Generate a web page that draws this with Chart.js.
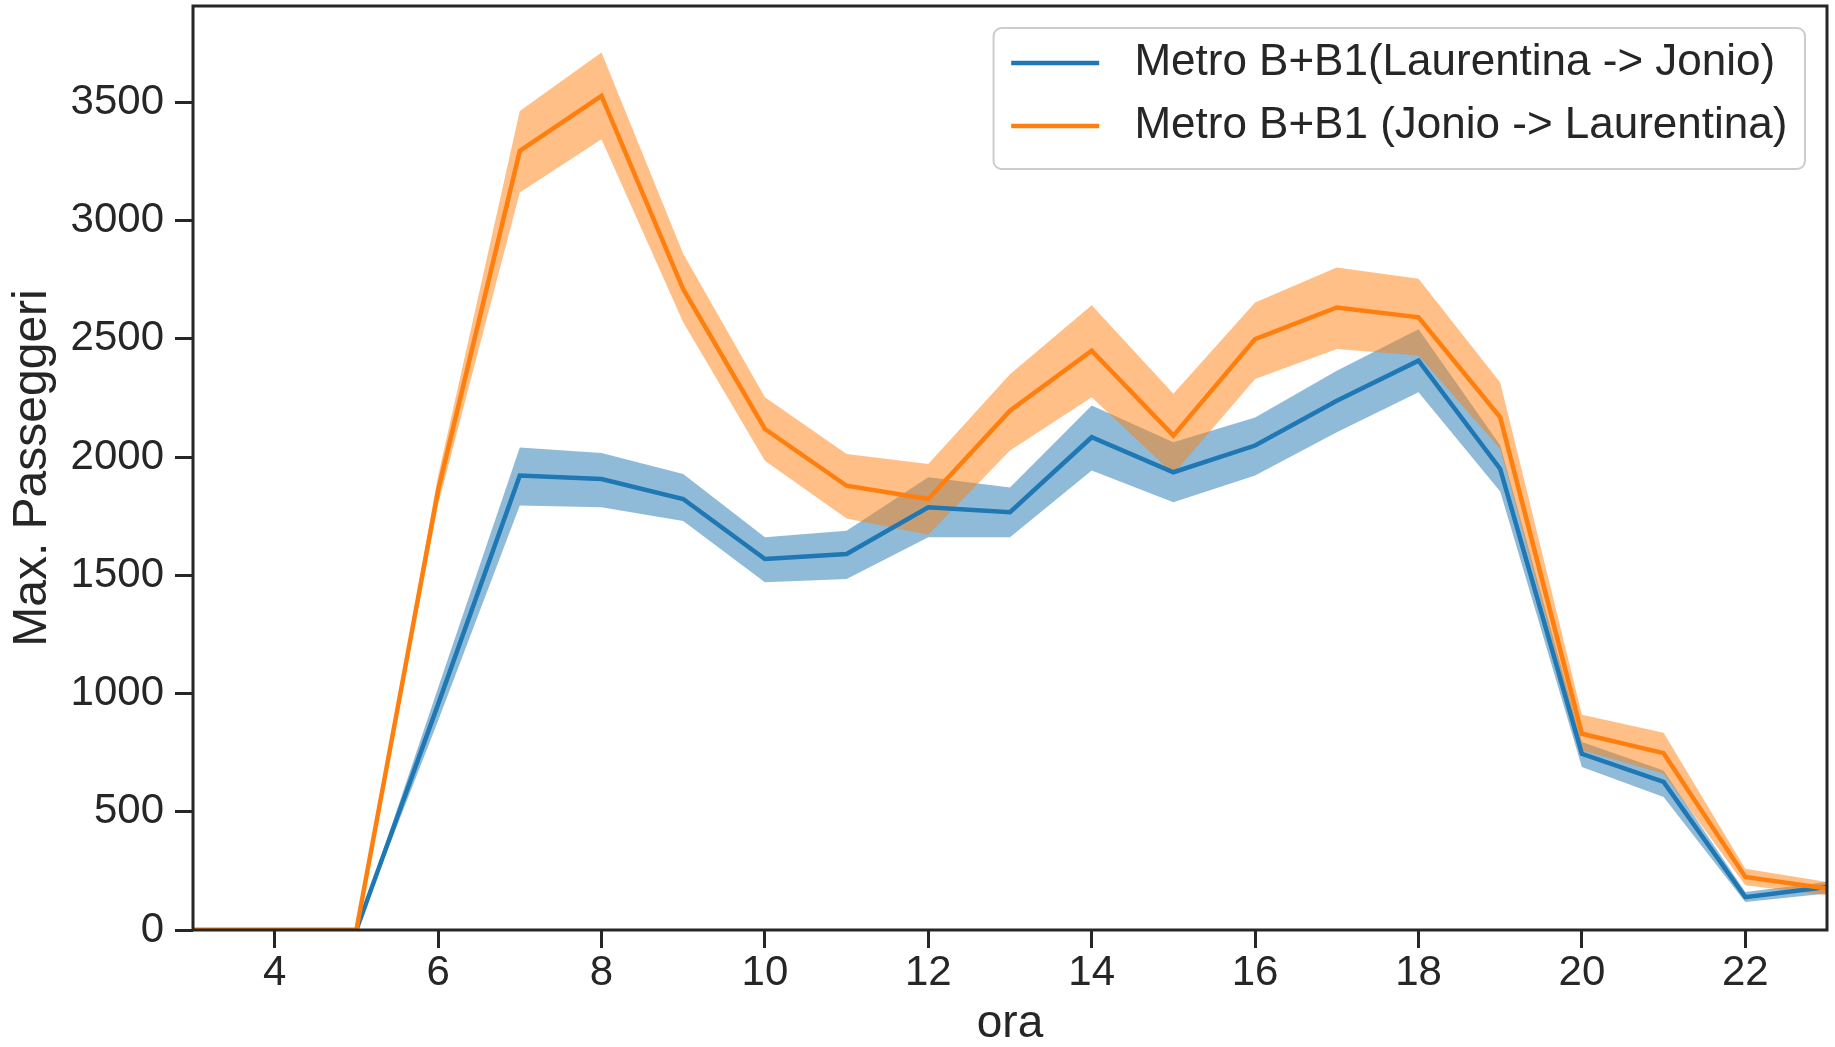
<!DOCTYPE html>
<html>
<head>
<meta charset="utf-8">
<title>Max. Passeggeri per ora</title>
<script src="https://cdn.jsdelivr.net/npm/chart.js@4.4.1/dist/chart.umd.min.js"></script>
<style>
    html, body { margin: 0; padding: 0; background: #ffffff; }
    #chart { display: block; }
</style>
</head>
<body>
<canvas id="chart" width="1835" height="1047"></canvas>
<script>
// hours of the day (x) and the max passengers
const hours = [3, 4, 5, 6, 7, 8, 9, 10, 11, 12, 13, 14, 15, 16, 17, 18, 19, 20, 21, 22, 23];

const blueMean = [0, 0, 0, 955, 1922, 1907, 1823, 1569, 1590, 1788, 1767, 2084, 1936, 2049, 2238, 2408, 1950, 745, 626, 139, 182];
const blueLow  = [0, 0, 0, 885, 1795, 1788, 1730, 1471, 1485, 1661, 1661, 1943, 1809, 1922, 2105, 2274, 1855, 689, 562, 118, 154];
const blueHigh = [0, 0, 0, 1025, 2041, 2017, 1929, 1661, 1689, 1915, 1872, 2218, 2063, 2168, 2365, 2541, 2050, 795, 675, 161, 203];

const orangeMean = [0, 0, 0, 1860, 3295, 3528, 2710, 2119, 1879, 1823, 2196, 2450, 2091, 2499, 2633, 2591, 2168, 830, 748, 224, 175];
const orangeLow  = [0, 0, 0, 1800, 3119, 3344, 2570, 1985, 1740, 1672, 2028, 2253, 1929, 2330, 2457, 2430, 2034, 760, 661, 189, 147];
const orangeHigh = [0, 0, 0, 1920, 3464, 3711, 2860, 2253, 2013, 1971, 2351, 2642, 2268, 2654, 2802, 2754, 2316, 910, 834, 259, 203];

const seriesNames = ["Metro B+B1(Laurentina -> Jonio)", "Metro B+B1 (Jonio -> Laurentina)"];
const xTicks = [4, 6, 8, 10, 12, 14, 16, 18, 20, 22];
const yTicks = [0, 500, 1000, 1500, 2000, 2500, 3000, 3500];

const BLUE = "#1f77b4";
const ORANGE = "#ff7f0e";
const INK = "#262626";
const FONT = "'Liberation Sans', Arial, Helvetica, sans-serif";

const toPoints = (ys) => ys.map((y, i) => ({ x: hours[i], y: y }));

// full box around the axes, like the matplotlib spines
const frame = {
    id: 'frame',
    afterDatasetsDraw(chart) {
        const { ctx, chartArea: a } = chart;
        ctx.save();
        ctx.strokeStyle = INK;
        ctx.lineWidth = 3;
        ctx.strokeRect(a.left, a.top, a.right - a.left, a.bottom - a.top);
        ctx.restore();
    }
};

// boxed legend in the top right corner of the axes
const boxLegend = {
    id: 'boxLegend',
    afterDraw(chart) {
        const { ctx, chartArea: a } = chart;
        const fs = 44;
        ctx.save();
        ctx.font = fs + "px " + FONT;
        const textW = Math.max(...seriesNames.map(t => ctx.measureText(t).width));
        const pad = 0.4 * fs, handle = 2 * fs, gap = 0.8 * fs, edge = 0.5 * fs;
        const w = pad + handle + gap + textW + pad;
        const h = 141;
        const x = a.right - edge - w;
        const y = a.top + edge;

        ctx.beginPath();
        ctx.roundRect(x, y, w, h, 8);
        ctx.fillStyle = "rgba(255,255,255,0.8)";
        ctx.fill();
        ctx.strokeStyle = "#cccccc";
        ctx.lineWidth = 2;
        ctx.stroke();

        const colors = [BLUE, ORANGE];
        seriesNames.forEach((name, i) => {
            const cy = y + 35 + i * 63;
            ctx.beginPath();
            ctx.moveTo(x + pad, cy);
            ctx.lineTo(x + pad + handle, cy);
            ctx.strokeStyle = colors[i];
            ctx.lineWidth = 4.5;
            ctx.stroke();
            ctx.fillStyle = INK;
            ctx.textAlign = "left";
            ctx.textBaseline = "middle";
            ctx.fillText(name, x + pad + handle + gap, cy);
        });
        ctx.restore();
    }
};

const bandDataset = (ys, color, fill, order) => ({
    data: toPoints(ys),
    borderWidth: 0,
    borderColor: "rgba(0,0,0,0)",
    backgroundColor: color,
    pointRadius: 0,
    fill: fill,
    order: order
});

const ctx = document.getElementById("chart").getContext("2d");

new Chart(ctx, {
    type: 'line',
    data: {
        datasets: [
            { label: seriesNames[0], data: toPoints(blueMean), borderColor: BLUE, borderWidth: 4.5, pointRadius: 0, fill: false, order: 1 },
            bandDataset(blueHigh, "rgba(31,119,180,0.5)", '+1', 1),
            bandDataset(blueLow, "rgba(31,119,180,0.5)", false, 1),
            { label: seriesNames[1], data: toPoints(orangeMean), borderColor: ORANGE, borderWidth: 4.5, pointRadius: 0, fill: false, order: 0 },
            bandDataset(orangeHigh, "rgba(255,127,14,0.5)", '+1', 0),
            bandDataset(orangeLow, "rgba(255,127,14,0.5)", false, 0)
        ]
    },
    options: {
        responsive: false,
        animation: false,
        events: [],
        layout: { padding: { top: 6, right: 8, left: 0, bottom: 0 } },
        elements: { line: { tension: 0 } },
        plugins: {
            legend: { display: false },
            tooltip: { enabled: false },
            filler: { drawTime: 'beforeDatasetsDraw' }
        },
        scales: {
            x: {
                type: 'linear',
                min: 3,
                max: 23,
                afterBuildTicks: (axis) => { axis.ticks = xTicks.map(v => ({ value: v })); },
                afterFit: (scale) => {
                    scale.height = 117;
                    scale.paddingLeft = 0;
                    scale.paddingRight = 0;
                },
                grid: { drawOnChartArea: false, drawTicks: true, tickLength: 18, color: INK, lineWidth: 3 },
                border: { display: false },
                ticks: {
                    color: INK,
                    padding: 4,
                    maxRotation: 0,
                    font: { family: FONT, size: 42, lineHeight: 1 },
                    callback: (v) => String(v)
                },
                title: {
                    display: true,
                    text: 'ora',
                    color: INK,
                    padding: { top: 0, bottom: 0 },
                    font: { family: FONT, size: 46, lineHeight: 1 }
                }
            },
            y: {
                type: 'linear',
                min: 0,
                max: 3908,
                afterBuildTicks: (axis) => { axis.ticks = yTicks.map(v => ({ value: v })); },
                afterFit: (scale) => {
                    scale.width = 193;
                    scale.paddingTop = 0;
                    scale.paddingBottom = 0;
                },
                grid: { drawOnChartArea: false, drawTicks: true, tickLength: 18, color: INK, lineWidth: 3 },
                border: { display: false },
                ticks: {
                    color: INK,
                    padding: 11,
                    font: { family: FONT, size: 42, lineHeight: 1 },
                    callback: (v) => String(v)
                },
                title: {
                    display: true,
                    text: 'Max. Passeggeri',
                    color: INK,
                    padding: { top: 9, bottom: 0 },
                    font: { family: FONT, size: 48, lineHeight: 1 }
                }
            }
        }
    },
    plugins: [frame, boxLegend]
});
</script>
</body>
</html>
